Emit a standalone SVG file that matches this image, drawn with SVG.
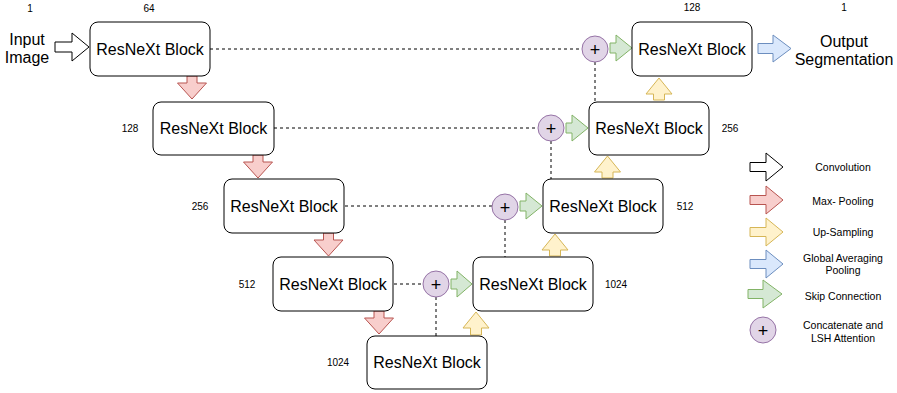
<svg xmlns="http://www.w3.org/2000/svg" width="897" height="393" viewBox="0 0 897 393">
<style>
text{font-family:"Liberation Sans",Arial,Helvetica,sans-serif;fill:#000;text-anchor:middle}
.blk rect{fill:#fff;stroke:#000;stroke-width:1}
.blk text{font-size:16px}
.big{font-size:16px}
.num{font-size:10px}
.leg{font-size:10.5px}
.dash{stroke:#000;stroke-width:1;stroke-dasharray:3 3;fill:none}
.conv{fill:#fff;stroke:#000}
.pool{fill:#f8cecc;stroke:#b85450}
.up{fill:#fff2cc;stroke:#d6b656}
.gap{fill:#dae8fc;stroke:#6c8ebf}
.skip{fill:#d5e8d4;stroke:#82b366}
.cat circle{fill:#e1d5e7;stroke:#9673a6}
.cat text{font-size:18px;fill:#000}
</style>
<rect width="897" height="393" fill="#fff"/>
<g id="connectors">
<line class="dash" x1="210" y1="49" x2="582" y2="49"/>
<line class="dash" x1="274" y1="128" x2="538" y2="128"/>
<line class="dash" x1="345" y1="206" x2="492" y2="206"/>
<line class="dash" x1="394" y1="284" x2="423" y2="284"/>
<line class="dash" x1="595" y1="62" x2="595" y2="102"/>
<line class="dash" x1="551" y1="141" x2="551" y2="179"/>
<line class="dash" x1="505" y1="220" x2="505" y2="257"/>
<line class="dash" x1="436" y1="297" x2="436" y2="336"/>
<polygon class="conv" points="55,42 72,42 72,33 89,47 72,61 72,52 55,52"/>
<polygon class="gap" points="758,43.5 773,43.5 773,35 791,48.5 773,62 773,53.5 758,53.5"/>
<polygon class="skip" points="610,43 616,43 616,35 632,48 616,61 616,53 610,53"/>
<polygon class="skip" points="566,123 572,123 572,115 588,128 572,141 572,133 566,133"/>
<polygon class="skip" points="520,201 526,201 526,193 542,206 526,219 526,211 520,211"/>
<polygon class="skip" points="451,279 457,279 457,271 472,284 457,297 457,289 451,289"/>
<polygon class="pool" points="187,76 197,76 197,83 206.5,83 192,99 177.5,83 187,83"/>
<polygon class="pool" points="253,155 263,155 263,162 272.5,162 258,178 243.5,162 253,162"/>
<polygon class="pool" points="323.5,233 333.5,233 333.5,240 343,240 328.5,256 314,240 323.5,240"/>
<polygon class="pool" points="374,311 384,311 384,318 393.5,318 379,334 364.5,318 374,318"/>
<polygon class="up" points="470.5,335 481.5,335 481.5,328 489,328 476,312 463,328 470.5,328"/>
<polygon class="up" points="549.5,256 560.5,256 560.5,250 568,250 555,234 542,250 549.5,250"/>
<polygon class="up" points="602,178 613,178 613,172 620.5,172 607.5,156 594.5,172 602,172"/>
<polygon class="up" points="653.5,100 664.5,100 664.5,94 672,94 659,78 646,94 653.5,94"/>
</g>
<g id="block1" class="blk"><rect x="90" y="22" width="120" height="54" rx="8"/><text x="150" y="55">ResNeXt Block</text></g>
<g id="block2" class="blk"><rect x="153" y="102" width="121" height="53" rx="8"/><text x="213.5" y="134">ResNeXt Block</text></g>
<g id="block3" class="blk"><rect x="224" y="179" width="120" height="54" rx="8"/><text x="284" y="212">ResNeXt Block</text></g>
<g id="block4" class="blk"><rect x="273" y="257" width="120" height="54" rx="8"/><text x="333" y="290">ResNeXt Block</text></g>
<g id="block5" class="blk"><rect x="367" y="336" width="120" height="53" rx="8"/><text x="427" y="368">ResNeXt Block</text></g>
<g id="block6" class="blk"><rect x="473" y="257" width="120" height="54" rx="8"/><text x="533" y="290">ResNeXt Block</text></g>
<g id="block7" class="blk"><rect x="543" y="179" width="120" height="54" rx="8"/><text x="603" y="212">ResNeXt Block</text></g>
<g id="block8" class="blk"><rect x="589" y="102" width="120" height="53" rx="8"/><text x="649" y="134">ResNeXt Block</text></g>
<g id="block9" class="blk"><rect x="632" y="22" width="120" height="54" rx="8"/><text x="692" y="55">ResNeXt Block</text></g>
<g id="cat1" class="cat"><circle cx="595" cy="49" r="13"/><text x="595" y="55.5">+</text></g>
<g id="cat2" class="cat"><circle cx="551" cy="128" r="13"/><text x="551" y="134.5">+</text></g>
<g id="cat3" class="cat"><circle cx="505" cy="207" r="13"/><text x="505" y="213.5">+</text></g>
<g id="cat4" class="cat"><circle cx="436" cy="284" r="13"/><text x="436" y="290.5">+</text></g>
<g id="io">
<text class="big" x="27" y="45">Input</text>
<text class="big" x="27" y="63">Image</text>
<text class="big" x="844" y="47">Output</text>
<text class="big" x="844" y="65">Segmentation</text>
</g>
<g id="numbers">
<text class="num" x="30" y="12">1</text>
<text class="num" x="149" y="12">64</text>
<text class="num" x="130" y="132">128</text>
<text class="num" x="200" y="210">256</text>
<text class="num" x="247" y="288">512</text>
<text class="num" x="338" y="366">1024</text>
<text class="num" x="616" y="288">1024</text>
<text class="num" x="685" y="210">512</text>
<text class="num" x="730" y="132">256</text>
<text class="num" x="692" y="11">128</text>
<text class="num" x="844" y="11">1</text>
</g>
<g id="legend">
<polygon class="conv" points="750,162.5 766,162.5 766,153 783,167 766,181 766,171.5 750,171.5"/>
<polygon class="pool" points="750,195.5 766,195.5 766,186 783,200 766,214 766,204.5 750,204.5"/>
<polygon class="up" points="750,227.5 766,227.5 766,218 783,232 766,246 766,236.5 750,236.5"/>
<polygon class="gap" points="750,259.5 766,259.5 766,250 783,264 766,278 766,268.5 750,268.5"/>
<polygon class="skip" points="748,289.5 763,289.5 763,280 782,294 763,308 763,298.5 748,298.5"/>
<g class="cat"><circle cx="763" cy="330" r="13"/><text x="763" y="336.5">+</text></g>
<text class="leg" x="843" y="171">Convolution</text>
<text class="leg" x="843" y="205">Max- Pooling</text>
<text class="leg" x="843" y="236">Up-Sampling</text>
<text class="leg" x="843" y="262">Global Averaging</text>
<text class="leg" x="843" y="274">Pooling</text>
<text class="leg" x="843" y="300">Skip Connection</text>
<text class="leg" x="843" y="329">Concatenate and</text>
<text class="leg" x="843" y="342">LSH Attention</text>
</g>
</svg>
